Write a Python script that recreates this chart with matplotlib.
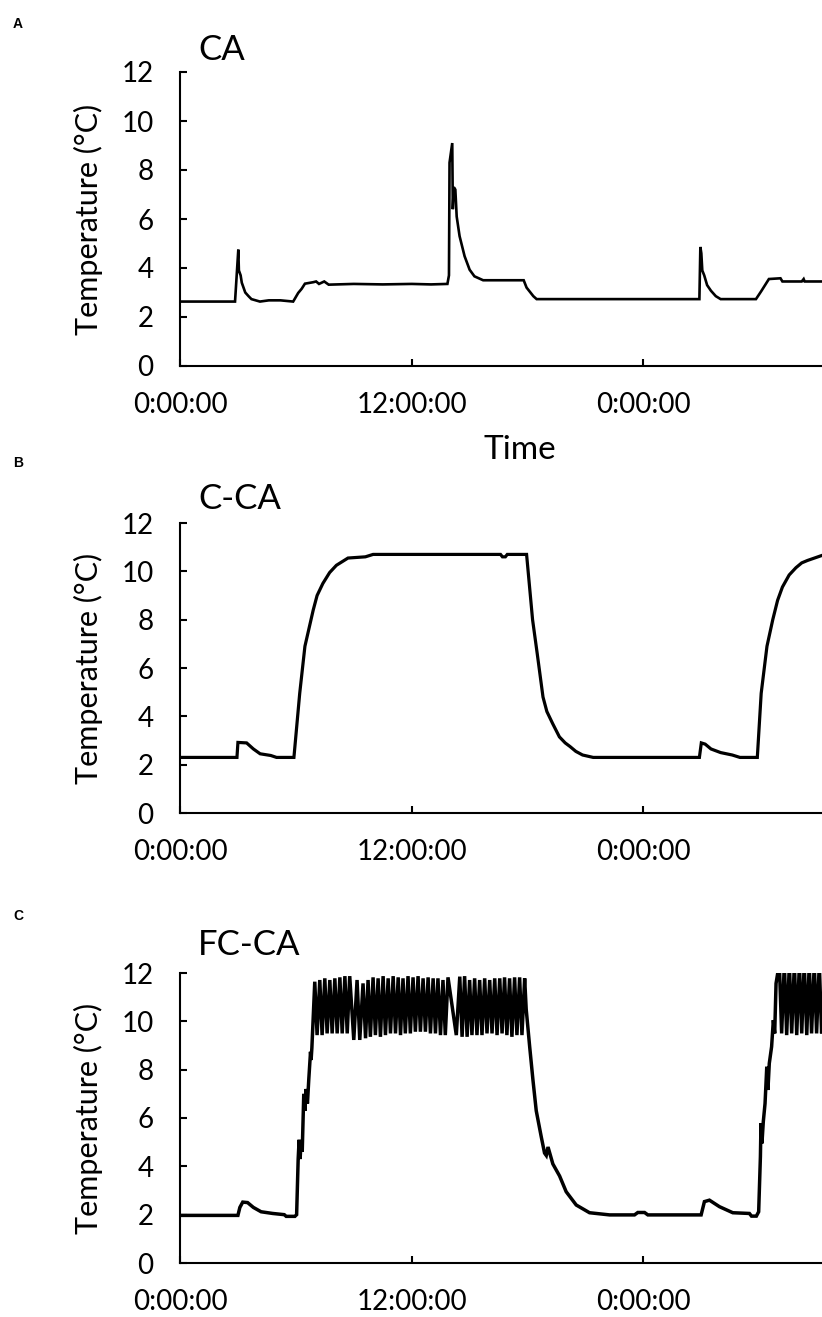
import matplotlib
matplotlib.use("Agg")
import matplotlib.pyplot as plt

# hours since the first midnight, temperature in deg C
ca_hours = [0, 2.85, 2.9, 3.02, 3.05, 3.14, 3.2, 3.38, 3.55, 3.7, 4.14, 4.6, 5.2, 5.86,
            5.95, 6.12, 6.3, 6.47, 6.9, 7.05, 7.2, 7.47, 7.7, 9.0, 10.5, 12.0, 13.0, 13.85,
            13.93, 13.96, 14.1, 14.13, 14.18, 14.26, 14.33, 14.48, 14.74, 15.0, 15.25, 15.7,
            17.8, 17.95, 18.15, 18.3, 18.47, 26.9, 26.95, 27.0, 27.05, 27.15, 27.3, 27.5,
            27.75, 28.0, 29.83, 30.1, 30.3, 30.5, 31.1, 31.2, 32.2, 32.3, 32.35, 33.4]
ca_temps = [2.63, 2.63, 3.25, 4.75, 3.9, 3.7, 3.4, 3.0, 2.85, 2.73, 2.63, 2.68, 2.68, 2.63,
            2.75, 2.98, 3.15, 3.36, 3.42, 3.45, 3.35, 3.45, 3.32, 3.35, 3.33, 3.35, 3.33, 3.35,
            3.7, 8.3, 9.1, 6.4, 7.3, 7.2, 6.1, 5.3, 4.48, 3.93, 3.66, 3.5,
            3.5, 3.2, 3.0, 2.85, 2.73, 2.73, 4.86, 4.6, 3.9, 3.7, 3.3, 3.07,
            2.85, 2.73, 2.73, 3.05, 3.3, 3.55, 3.58, 3.45, 3.45, 3.55, 3.45, 3.45]

cca_hours = [0, 2.95, 3.0, 3.45, 3.8, 4.15, 4.7, 5.0, 5.9, 6.2, 6.47, 6.9, 7.1, 7.4, 7.75,
             8.1, 8.5, 8.7, 9.6, 10.0, 16.6, 16.7, 16.85, 16.95, 17.95, 18.26, 18.5, 18.8,
             19.0, 19.3, 19.65, 19.95, 20.2, 20.5, 20.85, 21.4, 26.9, 27.0, 27.2, 27.5, 28.0,
             28.6, 29.0, 29.9, 30.1, 30.4, 30.7, 30.95, 31.2, 31.55, 31.9, 32.2, 32.5, 33.4]
cca_temps = [2.3, 2.3, 2.92, 2.9, 2.65, 2.45, 2.38, 2.3, 2.3, 4.95, 6.9, 8.4, 9.0, 9.5, 9.95,
             10.25, 10.45, 10.55, 10.6, 10.7, 10.7, 10.6, 10.6, 10.7, 10.7, 8.0, 6.6, 4.8,
             4.2, 3.7, 3.15, 2.9, 2.75, 2.55, 2.4, 2.3, 2.3, 2.9, 2.85, 2.65, 2.5,
             2.4, 2.3, 2.3, 4.95, 6.9, 8.0, 8.8, 9.35, 9.85, 10.15, 10.35, 10.45, 10.7]

fcca_hours = [0, 3.0, 3.1, 3.25, 3.5, 3.8, 4.2, 4.8, 5.4, 5.5, 5.95, 6.04,
              6.12, 6.17, 6.22, 6.27, 6.33, 6.41, 6.47, 6.53, 6.6, 6.67, 6.76, 6.79, 6.83, 6.9,
              6.98, 7.10, 7.24, 7.36, 7.50, 7.62, 7.76, 7.88, 8.02, 8.14, 8.28, 8.40, 8.54, 8.66,
              8.79, 9.00, 9.17, 9.31, 9.48, 9.61, 9.74, 9.86, 10.00, 10.12, 10.26, 10.38, 10.52,
              10.64, 10.78, 10.90, 11.04, 11.16, 11.30, 11.42, 11.55, 11.67, 11.81, 11.93, 12.07,
              12.19, 12.33, 12.45, 12.59, 12.71, 12.85, 12.97, 13.11, 13.23, 13.36, 13.49, 13.62,
              13.74, 13.88, 14.31, 14.49, 14.61, 14.74, 14.87, 15.00, 15.12, 15.26, 15.38, 15.52,
              15.64, 15.78, 15.90, 16.04, 16.16, 16.30, 16.42, 16.56, 16.68, 16.81, 16.93, 17.07,
              17.19, 17.33, 17.45, 17.59, 17.71, 17.85,
              17.93, 18.11, 18.28, 18.45, 18.71, 18.88, 18.97, 19.06, 19.31, 19.66, 20.0, 20.52,
              21.21, 22.25, 23.54, 23.71, 24.06, 24.23, 26.99, 27.16, 27.42, 27.94, 28.63, 29.49,
              29.6, 29.85, 29.97,
              30.06, 30.09, 30.14, 30.21, 30.30, 30.39, 30.45, 30.52, 30.64, 30.73, 30.80, 30.87,
              31.04, 31.16, 31.30, 31.42, 31.56, 31.68, 31.82, 31.94, 32.08, 32.20, 32.33, 32.46,
              32.59, 32.71, 32.85, 32.97, 33.11, 33.23, 33.4]
fcca_temps = [1.97, 1.97, 2.3, 2.52, 2.5, 2.3, 2.12, 2.05, 2.0, 1.93, 1.93, 2.0,
              4.3, 5.1, 4.3, 5.0, 4.6, 7.0, 6.3, 7.2, 6.6, 7.6, 8.74, 8.4, 8.9, 10.2,
              11.64, 9.43, 11.71, 9.43, 11.78, 9.50, 11.71, 9.50, 11.78, 9.50, 11.82, 9.50, 11.87, 9.50,
              11.87, 9.23, 11.71, 9.23, 11.57, 9.30, 11.71, 9.36, 11.82, 9.43, 11.78, 9.36, 11.87,
              9.43, 11.78, 9.50, 11.87, 9.50, 11.82, 9.43, 11.78, 9.50, 11.87, 9.50, 11.82,
              9.57, 11.87, 9.57, 11.78, 9.57, 11.82, 9.50, 11.78, 9.50, 11.78, 9.43, 11.71,
              9.43, 11.82, 9.43, 11.85, 9.36, 11.87, 9.36, 11.71, 9.43, 11.78, 9.43, 11.71,
              9.43, 11.78, 9.50, 11.71, 9.50, 11.78, 9.43, 11.78, 9.50, 11.82, 9.43, 11.78,
              9.36, 11.82, 9.43, 11.82, 9.43, 11.78,
              10.5, 8.95, 7.57, 6.3, 5.22, 4.55, 4.45, 4.8, 4.1, 3.6, 2.95, 2.40,
              2.08, 1.99, 1.99, 2.09, 2.09, 1.99, 1.99, 2.54, 2.6, 2.33, 2.08, 2.05,
              1.94, 1.94, 2.12,
              4.4, 5.78, 4.95, 5.85, 6.6, 8.12, 7.16, 8.26, 8.95, 10.05, 9.5, 11.57,
              12.4, 9.5, 12.4, 9.43, 12.4, 9.5, 12.4, 9.43, 12.4, 9.5, 12.4, 9.43,
              12.4, 9.5, 12.4, 9.5, 12.4, 9.5, 12.4]

panel_names = ["CA", "C-CA", "FC-CA"]
panel_letters = ["A", "B", "C"]
x_ticks = [0, 12, 24]
x_labels = ["0:00:00", "12:00:00", "0:00:00"]
y_ticks = [0, 2, 4, 6, 8, 10, 12]

plt.rcParams["font.family"] = ["Lato", "DejaVu Sans"]

W, H = 822, 1317
fig = plt.figure(figsize=(W / 100, H / 100), dpi=100)

# axes boxes in pixels: (y of 12 deg, y of 0 deg)
boxes = [(72, 366), (523, 813), (973, 1263)]
title_base = [60, 509, 955]
letter_base = [28, 467, 920]
series = [(ca_hours, ca_temps, 1.9), (cca_hours, cca_temps, 2.3), (fcca_hours, fcca_temps, 2.5)]

x0 = 180
for i, (top, bot) in enumerate(boxes):
  ax = fig.add_axes([x0 / W, 1 - bot / H, 1 - x0 / W, (bot - top) / H])
  hours, temps, lw = series[i]
  ax.plot(hours, temps, color="black", lw=lw, solid_joinstyle="miter")
  ax.set_xlim(0, 33.25)
  ax.set_ylim(0, 12)
  ax.set_xticks(x_ticks)
  ax.set_xticklabels(x_labels)
  ax.set_yticks(y_ticks)
  for s in ["top", "right"]:
    ax.spines[s].set_visible(False)
  for s in ["left", "bottom"]:
    ax.spines[s].set_linewidth(1.5)
  ax.tick_params(direction="in", length=5, width=1.5, labelsize=20, pad=19)

  fig.text(x0 / W + 0.022, 1 - title_base[i] / H, panel_names[i], fontsize=25, va="baseline")
  fig.text(13 / W, 1 - letter_base[i] / H, panel_letters[i], fontsize=10, fontweight="bold",
           family="Liberation Sans", va="baseline")
  fig.text(88 / W, 1 - (top + bot) / 2 / H, "Temperature (°C)", fontsize=22, rotation=90,
           ha="center", va="center")

fig.text(520 / W, 1 - 450 / H, "Time", fontsize=24, ha="center", va="center")

fig.savefig("out.png", dpi=100)
